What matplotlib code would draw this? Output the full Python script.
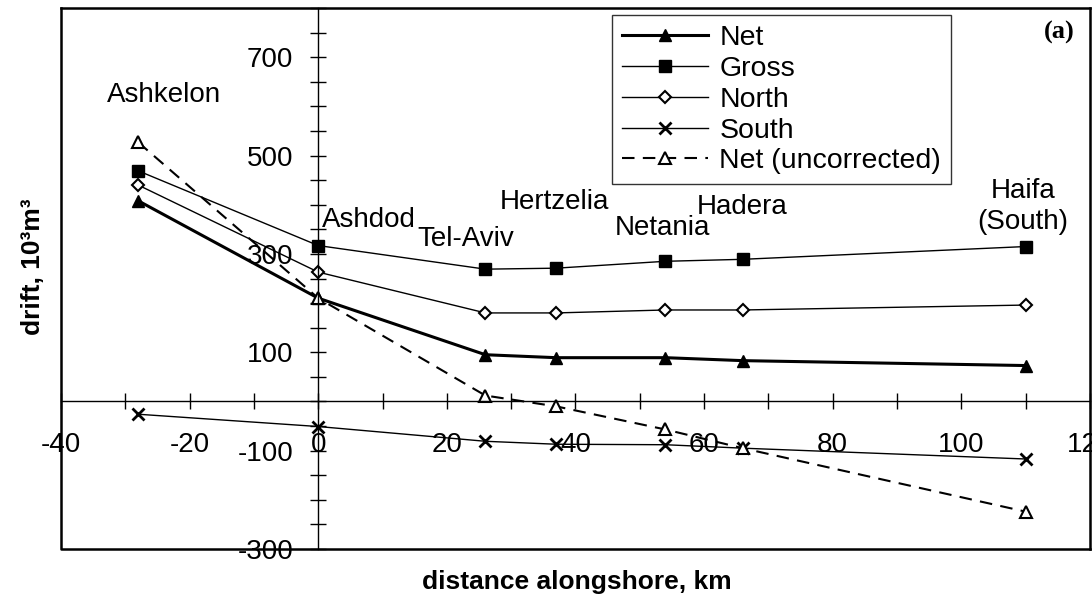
import matplotlib
matplotlib.use('Agg')
import matplotlib.pyplot as plt
from matplotlib.ticker import FixedLocator, MultipleLocator

plt.rcParams['font.family'] = ['Liberation Sans', 'DejaVu Sans']
plt.rcParams['axes.unicode_minus'] = False

# stations along the coast
stations = ['Ashkelon', 'Ashdod', 'Tel-Aviv', 'Hertzelia', 'Netania', 'Hadera', 'Haifa\n(South)']
dist = [-28, 0, 26, 37, 54, 66, 110]

# drift, 10^3 m^3
net = [408, 210, 95, 89, 89, 83, 73]
gross = [469, 317, 269, 271, 285, 289, 315]
north = [440, 263, 180, 180, 186, 186, 196]
south = [-26, -51, -81, -87, -88, -95, -117]
net_unc = [527, 210, 12, -10, -57, -95, -224]

# where the station names sit (data coords)
lab_x = [-24, 0.5, 23, 36.7, 53.6, 66, 109.6]
lab_y = [624, 368, 331, 406, 352, 396, 396]
lab_ha = ['center', 'left', 'center', 'center', 'center', 'center', 'center']

fig = plt.figure(figsize=(10.92, 5.99), dpi=100)
ax = fig.add_axes([0.0559, 0.0835, 0.9421, 0.9031])

ax.plot(dist, net, color='k', lw=2.2, marker='^', ms=9, label='Net')
ax.plot(dist, gross, color='k', lw=1, marker='s', ms=8.5, label='Gross')
ax.plot(dist, north, color='k', lw=1, marker='D', ms=6, mfc='white', mew=1.5, label='North')
ax.plot(dist, south, color='k', lw=1, marker='x', ms=8, mew=2, label='South')
ax.plot(dist, net_unc, color='k', lw=1.5, ls=(0, (6, 4)), marker='^', ms=8, mfc='white',
        mew=1.5, label='Net (uncorrected)')

for name, x, y, ha in zip(stations, lab_x, lab_y, lab_ha):
    ax.text(x, y, name, ha=ha, va='center', fontsize=20, linespacing=1.25)

ax.set_xlim(-40, 120)
ax.set_ylim(-300, 800)

# axes through the origin, plus an outer frame
ax.spines['left'].set_position(('data', 0))
ax.spines['bottom'].set_position(('data', 0))
ax.spines['left'].set_linewidth(1)
ax.spines['bottom'].set_linewidth(1)
ax.spines['top'].set_linewidth(1.8)
ax.spines['right'].set_linewidth(1.8)
ax.plot([0, 0, 1], [1, 0, 0], transform=ax.transAxes, color='k', lw=1.8, clip_on=False)

ax.xaxis.set_major_locator(MultipleLocator(20))
ax.xaxis.set_minor_locator(MultipleLocator(10))
ax.yaxis.set_major_locator(FixedLocator([-300, -100, 100, 300, 500, 700]))
ax.yaxis.set_minor_locator(MultipleLocator(50))
ax.tick_params(which='both', direction='inout', length=12, width=1, labelsize=20, pad=12)
ax.tick_params(axis='x', which='major', pad=16)

leg = ax.legend(loc='upper left', bbox_to_anchor=(0.536, 0.987), fontsize=20.5, frameon=True,
                fancybox=False, edgecolor='k', handlelength=3.0, borderpad=0.35,
                borderaxespad=0, labelspacing=0.17, handletextpad=0.4)
leg.get_frame().set_linewidth(1)

ax.text(0.985, 0.955, '(a)', transform=ax.transAxes, ha='right', va='center',
        fontsize=19, fontweight='bold', family='Liberation Serif')

fig.text(0.030, 1 - 267 / 599, 'drift, 10³m³', rotation=90, ha='center', va='center',
         fontsize=19, fontweight='bold')
fig.text(577 / 1092, 1 - 582 / 599, 'distance alongshore, km', ha='center', va='center',
         fontsize=19, fontweight='bold')

fig.savefig('out.png', dpi=100)
